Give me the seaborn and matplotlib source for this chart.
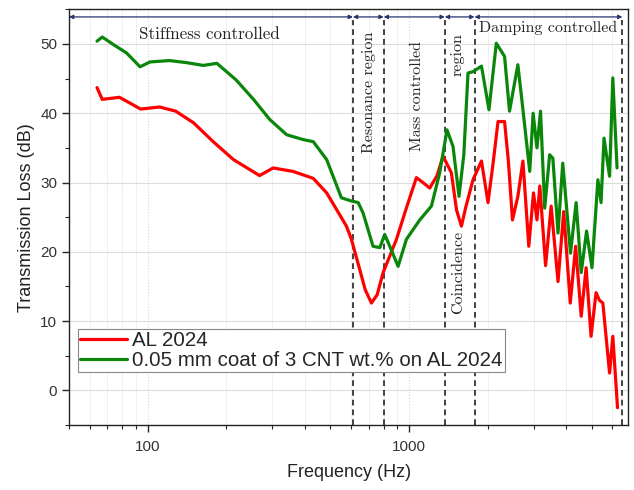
import numpy as np
import pandas as pd
import matplotlib
matplotlib.use("Agg")
import matplotlib.pyplot as plt
import seaborn as sns
from matplotlib.ticker import LogLocator, MultipleLocator, NullFormatter, FixedLocator, FixedFormatter

# Transmission loss of bare AL 2024
freq_al = [64, 67, 78, 94, 111, 128, 150, 178, 213, 268, 302, 360, 430, 484, 576, 602,
           648, 680, 718, 755, 796, 895, 980, 1067, 1130, 1200, 1280, 1349, 1452, 1520,
           1586, 1650, 1757, 1893, 2005, 2100, 2190, 2320, 2400, 2487, 2608, 2727, 2872,
           2993, 3086, 3164, 3330, 3497, 3715, 3906, 4138, 4339, 4557, 4758, 4970, 5194,
           5350, 5514, 5850, 6020, 6275]
tl_al = [43.7, 42.0, 42.3, 40.6, 40.9, 40.3, 38.6, 35.9, 33.3, 31.0, 32.1, 31.6, 30.6,
         28.5, 23.7, 21.8, 17.4, 14.5, 12.6, 13.8, 17.0, 21.8, 26.5, 30.7, 30.0, 29.2,
         31.0, 33.8, 31.4, 26.0, 23.7, 26.5, 30.4, 33.1, 27.1, 33.0, 38.8, 38.8, 33.0,
         24.6, 28.0, 33.1, 20.8, 28.5, 24.6, 29.5, 18.0, 26.6, 15.7, 25.8, 12.6, 20.8,
         10.7, 17.7, 7.8, 14.1, 13.0, 12.6, 2.5, 7.8, -2.5]

# Transmission loss of AL 2024 with 0.05 mm coat of 3 CNT wt.%
freq_cnt = [64, 67, 74, 83, 93.5, 102, 121, 141, 163, 184, 218, 254, 293, 340, 393, 430,
            484, 551, 593, 639, 667, 728, 773, 807, 844, 908, 977, 1099, 1218, 1310, 1397,
            1473, 1553, 1620, 1681, 1757, 1893, 2022, 2157, 2320, 2423, 2608, 2700, 2896,
            2983, 3086, 3184, 3304, 3451, 3550, 3715, 3873, 4147, 4358, 4557, 4778, 5010,
            5278, 5428, 5571, 5850, 6020, 6249]
tl_cnt = [50.4, 51.0, 49.9, 48.7, 46.7, 47.4, 47.6, 47.3, 46.9, 47.2, 44.8, 42.0, 39.1,
          36.9, 36.2, 35.9, 33.3, 27.8, 27.4, 27.1, 25.6, 20.8, 20.6, 22.5, 20.8, 17.9,
          21.8, 24.6, 26.6, 31.4, 37.6, 35.2, 28.0, 34.0, 45.8, 46.0, 46.8, 40.5, 50.1,
          48.2, 40.3, 47.0, 42.0, 31.6, 40.0, 35.0, 40.3, 26.3, 34.0, 33.5, 22.7, 32.8,
          19.8, 27.1, 17.0, 23.0, 17.7, 30.4, 27.1, 36.4, 30.9, 45.1, 32.1]

series_names = ["AL 2024", "0.05 mm coat of 3 CNT wt.% on AL 2024"]
series_colors = ["#ff0000", "#0a870a"]

# Region boundaries (Hz) and region labels
boundaries = [610, 800, 1370, 1780, 6550]
region_labels = ["Stiffness controlled", "Resonance region", "Mass controlled",
                 "region", "Coincidence", "Damping controlled"]

x_ticks = [100, 1000]
x_ticklabels = ["100", "1000"]
y_ticks = [0, 10, 20, 30, 40, 50]

df = pd.concat([
    pd.DataFrame({"Frequency": freq_al, "TL": tl_al, "Sample": series_names[0]}),
    pd.DataFrame({"Frequency": freq_cnt, "TL": tl_cnt, "Sample": series_names[1]}),
])

sns.set_style("ticks")
plt.rcParams["font.family"] = ["Liberation Sans", "DejaVu Sans"]
plt.rcParams["lines.solid_joinstyle"] = "round"
plt.rcParams["lines.solid_capstyle"] = "round"

fig = plt.figure(figsize=(6.34, 4.90), dpi=100)
ax = fig.add_axes([69 / 634, 65 / 490, (628.3 - 69) / 634, (425 - 9.3) / 490])

ax.set_xscale("log")
ax.set_xlim(50, 6900)
ax.set_ylim(-5, 55)

# grid first so curves sit on top
ax.set_axisbelow(True)
ax.xaxis.set_major_locator(FixedLocator(x_ticks))
ax.xaxis.set_major_formatter(FixedFormatter(x_ticklabels))
ax.xaxis.set_minor_locator(LogLocator(base=10, subs=np.arange(2, 10), numticks=20))
ax.xaxis.set_minor_formatter(NullFormatter())
ax.yaxis.set_major_locator(FixedLocator(y_ticks))
ax.yaxis.set_minor_locator(MultipleLocator(5))
ax.grid(which="major", axis="y", color="#dcdcdc", lw=0.8)
ax.grid(which="major", axis="x", color="#d8d8d8", lw=0.8, ls=":")
ax.grid(which="minor", axis="x", color="#efefef", lw=0.7)

sns.lineplot(data=df, x="Frequency", y="TL", hue="Sample", palette=series_colors,
             estimator=None, sort=False, lw=2.3, ax=ax, legend=False, zorder=3)

# dashed region boundaries
arrow_y = 53.9
for b in boundaries:
    ax.plot([b, b], [-5, arrow_y - 0.4], ls=(0, (3.2, 2.2)), color="#333333", lw=1.3, zorder=2)

# double-headed arrows along the top
edges = [50] + boundaries
for a, b in zip(edges[:-1], edges[1:]):
    ax.annotate("", xy=(a, arrow_y), xytext=(b, arrow_y),
                arrowprops=dict(arrowstyle="<|-|>", color="#27356e", lw=0.9,
                                mutation_scale=6, shrinkA=0, shrinkB=0), zorder=4)

serif = dict(family="cmr10", color="#222222")
ax.text(172, 51.4, region_labels[0], ha="center", va="center", fontsize=12.2, **serif)
ax.text(3400, 52.3, region_labels[5], ha="center", va="center", fontsize=11.5, **serif)
ax.text(700, 43.0, region_labels[1], ha="center", va="center", rotation=90, fontsize=11.5, **serif)
ax.text(1070, 42.5, region_labels[2], ha="center", va="center", rotation=90, fontsize=11.5, **serif)
ax.text(1540, 48.5, region_labels[3], ha="center", va="center", rotation=90, fontsize=11.5, **serif)
ax.text(1540, 17.0, region_labels[4], ha="center", va="center", rotation=90, fontsize=11.5, **serif)

ax.set_xlabel("Frequency (Hz)", fontsize=13, color="#222222", labelpad=7)
ax.set_ylabel("Transmission Loss (dB)", fontsize=13, color="#222222", labelpad=4)
ax.tick_params(axis="both", which="major", direction="out", length=5, width=1,
               labelsize=11, labelcolor="#333333", top=False, right=False)
ax.tick_params(axis="x", which="major", pad=6)
ax.tick_params(axis="both", which="minor", direction="out", length=3, width=0.8,
               top=False, right=False)

for s in ax.spines.values():
    s.set_color("#222222")
    s.set_linewidth(1.0)

handles = [plt.Line2D([], [], color=c, lw=2.3) for c in series_colors]
leg = ax.legend(handles, series_names, loc="upper left", bbox_to_anchor=(0.016, 0.231),
                borderaxespad=0, fontsize=14.8, frameon=True, fancybox=False,
                handlelength=2.3, handletextpad=0.25, borderpad=0.1, labelspacing=0.05)
leg.get_frame().set_edgecolor("#888888")
leg.get_frame().set_linewidth(0.8)
leg.get_frame().set_alpha(1)

fig.savefig("out.png", dpi=100)
